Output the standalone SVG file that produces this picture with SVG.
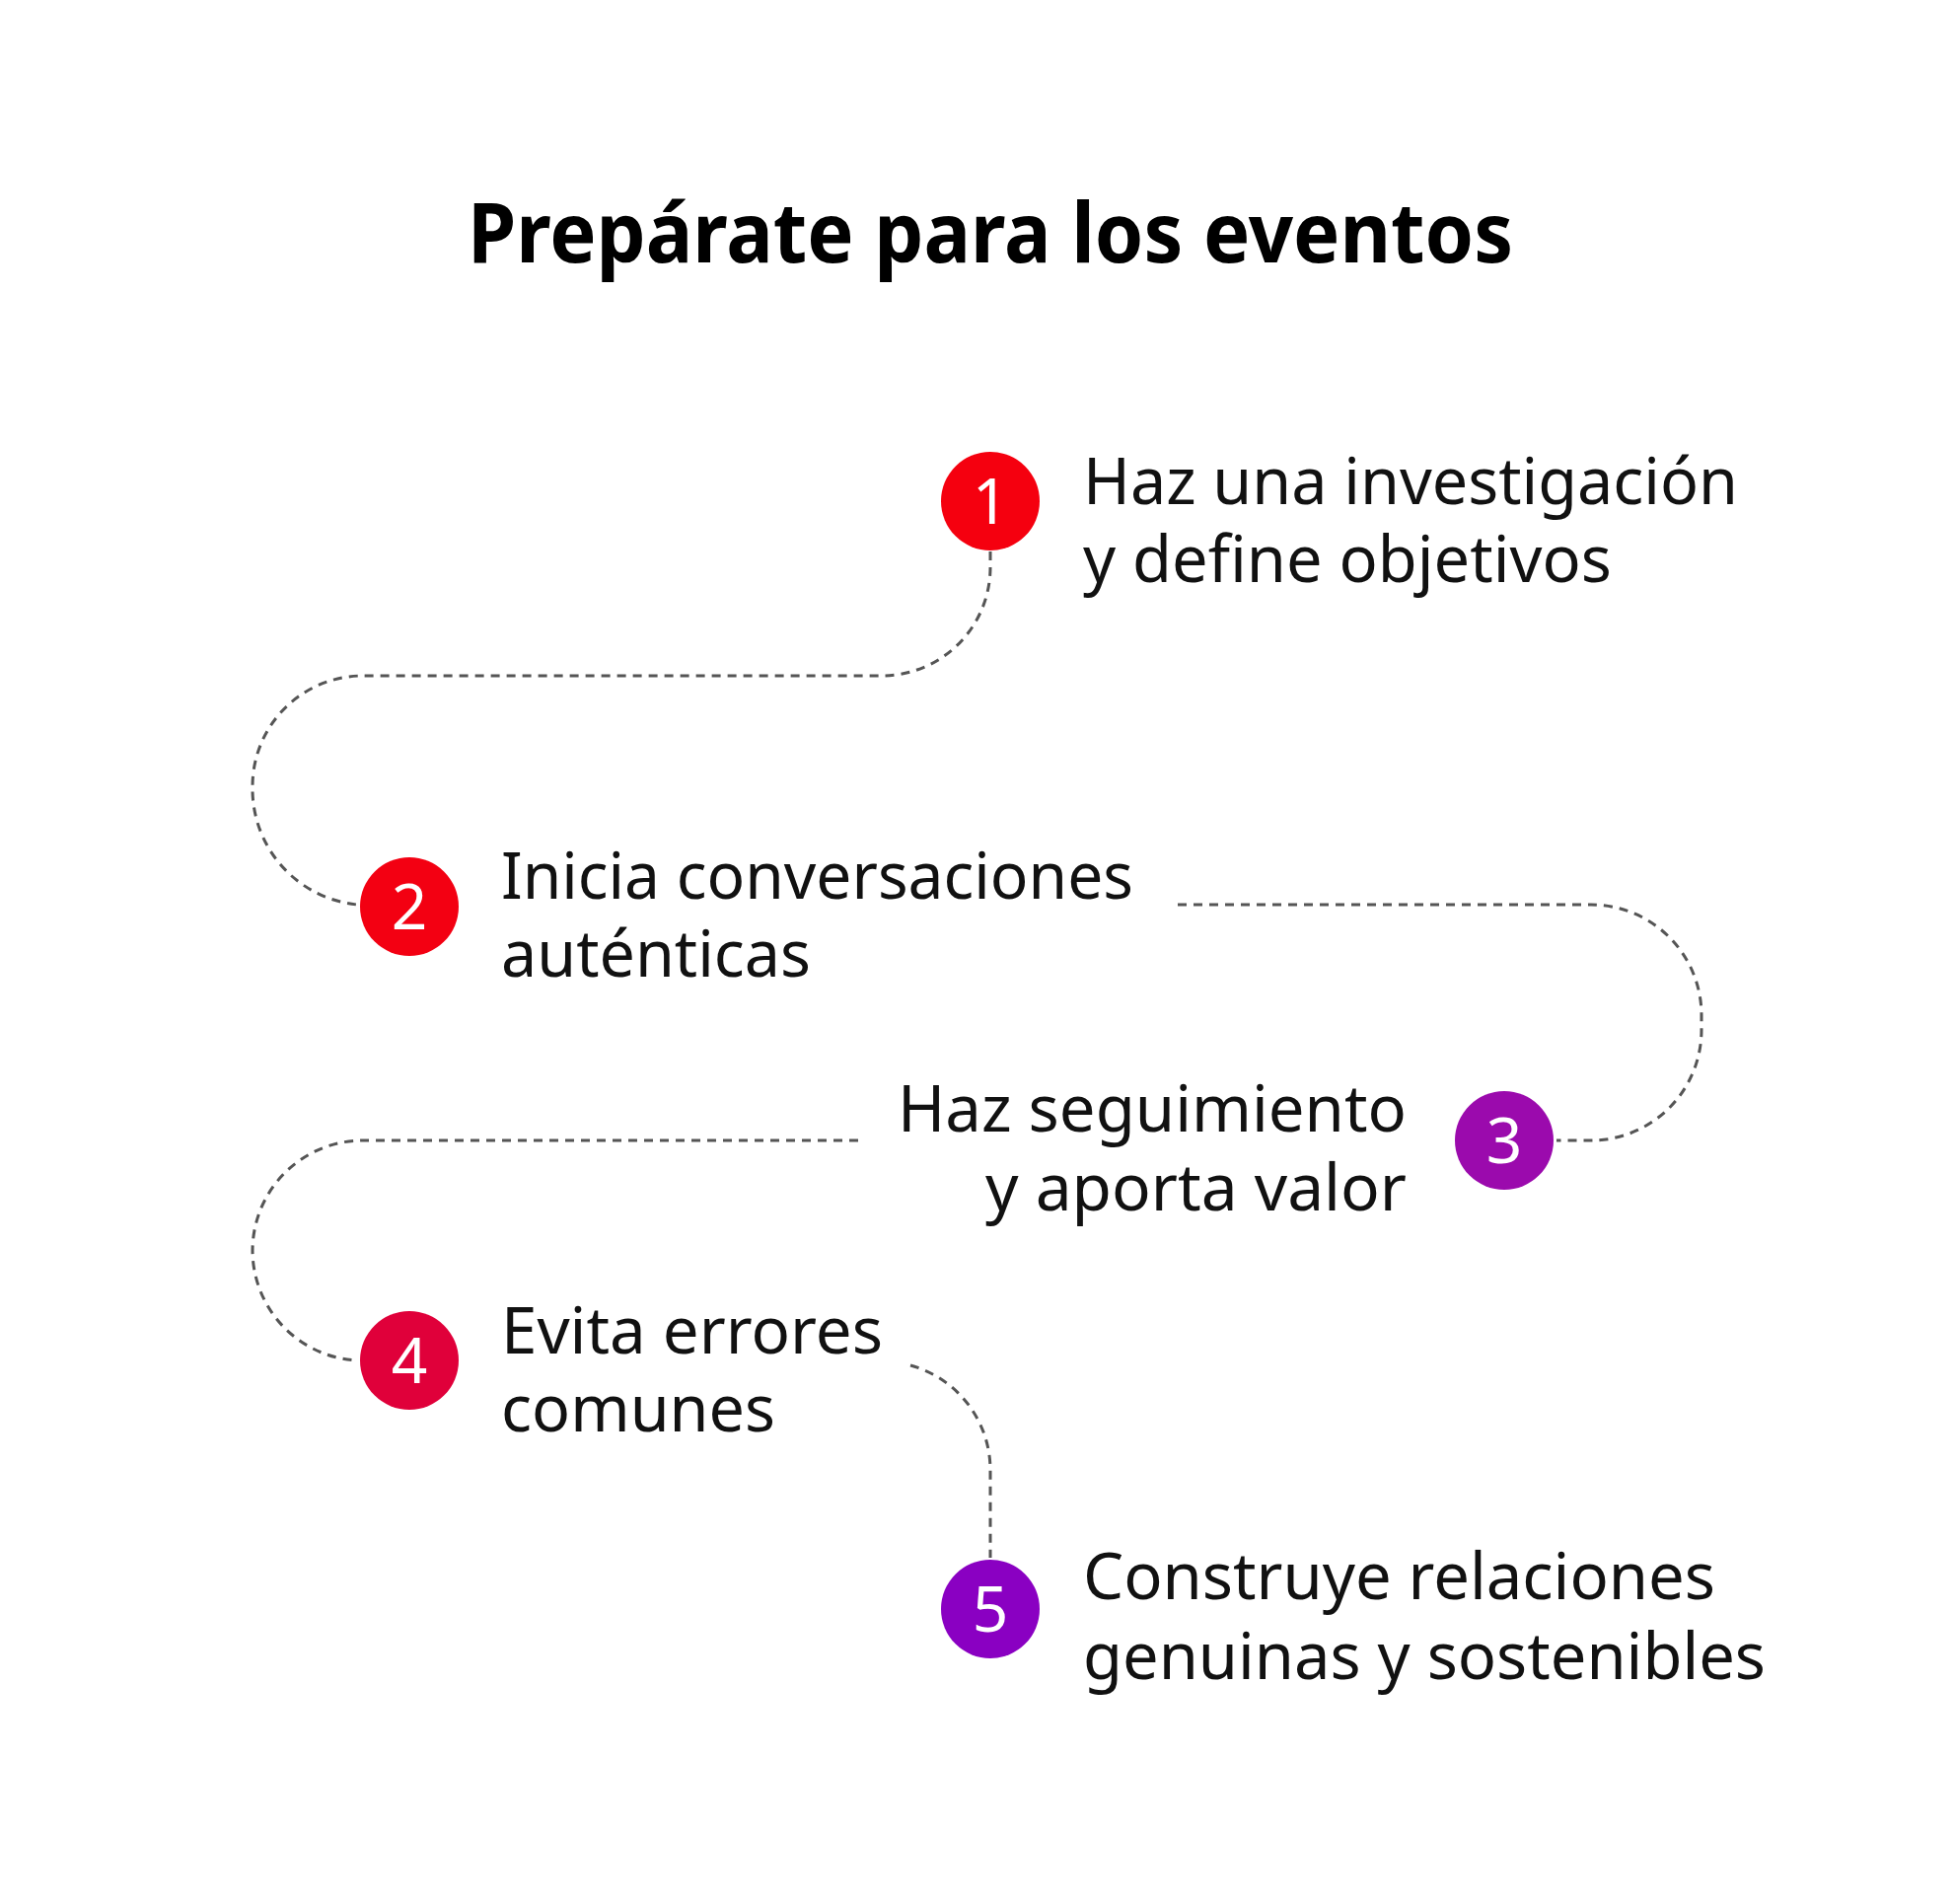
<svg xmlns="http://www.w3.org/2000/svg" width="1981" height="1930" viewBox="0 0 1981 1930">
<style>
.t{font-family:"Noto Sans","Open Sans",sans-serif;font-size:66px;fill:#111}
.n{font-family:"Noto Sans","Open Sans",sans-serif;font-size:64px;fill:#fff;text-anchor:middle}
.c{fill:none;stroke:#555;stroke-width:3;stroke-dasharray:9 7}
</style>
<rect width="1981" height="1930" fill="#fff"/>
<text x="474" y="266" textLength="1060" lengthAdjust="spacingAndGlyphs" style="font-family:'Noto Sans','Open Sans',sans-serif;font-size:84px;font-weight:bold;fill:#000">Prepárate para los eventos</text>
<g id="connectors">
<path class="c" d="M1004,559 V575 A110,110 0 0 1 894,685 H368 A112,112 0 0 0 256,797 A118,118 0 0 0 362,917"/>
<path class="c" d="M1194,917 H1613 A112,112 0 0 1 1725,1029 V1044 A112,112 0 0 1 1613,1156 H1578"/>
<path class="c" d="M870,1156 H368 A112,112 0 0 0 256,1268 A112,112 0 0 0 362,1379"/>
<path class="c" d="M923,1384 A110,110 0 0 1 1004,1490 V1579"/>
</g>
<g id="n1"><circle cx="1004" cy="508" r="50" fill="#f5000f"/><text class="n" x="1004" y="531">1</text>
<text class="t" x="1098" y="511" textLength="664" lengthAdjust="spacingAndGlyphs">Haz una investigación</text><text class="t" x="1098" y="590" textLength="536" lengthAdjust="spacingAndGlyphs">y define objetivos</text></g>
<g id="n2"><circle cx="415" cy="919" r="50" fill="#f30012"/><text class="n" x="415" y="942">2</text>
<text class="t" x="508" y="911" textLength="641" lengthAdjust="spacingAndGlyphs">Inicia conversaciones</text><text class="t" x="508" y="990" textLength="314" lengthAdjust="spacingAndGlyphs">auténticas</text></g>
<g id="n3"><circle cx="1525" cy="1156" r="50" fill="#9b0aad"/><text class="n" x="1525" y="1179">3</text>
<text class="t" x="910" y="1147" textLength="516" lengthAdjust="spacingAndGlyphs">Haz seguimiento</text><text class="t" x="999" y="1227" textLength="427" lengthAdjust="spacingAndGlyphs">y aporta valor</text></g>
<g id="n4"><circle cx="415" cy="1379" r="50" fill="#e0003a"/><text class="n" x="415" y="1402">4</text>
<text class="t" x="508" y="1372" textLength="387" lengthAdjust="spacingAndGlyphs">Evita errores</text><text class="t" x="508" y="1451" textLength="278" lengthAdjust="spacingAndGlyphs">comunes</text></g>
<g id="n5"><circle cx="1004" cy="1631" r="50" fill="#8a00c2"/><text class="n" x="1004" y="1654">5</text>
<text class="t" x="1098" y="1621" textLength="641" lengthAdjust="spacingAndGlyphs">Construye relaciones</text><text class="t" x="1098" y="1702" textLength="692" lengthAdjust="spacingAndGlyphs">genuinas y sostenibles</text></g>
</svg>
